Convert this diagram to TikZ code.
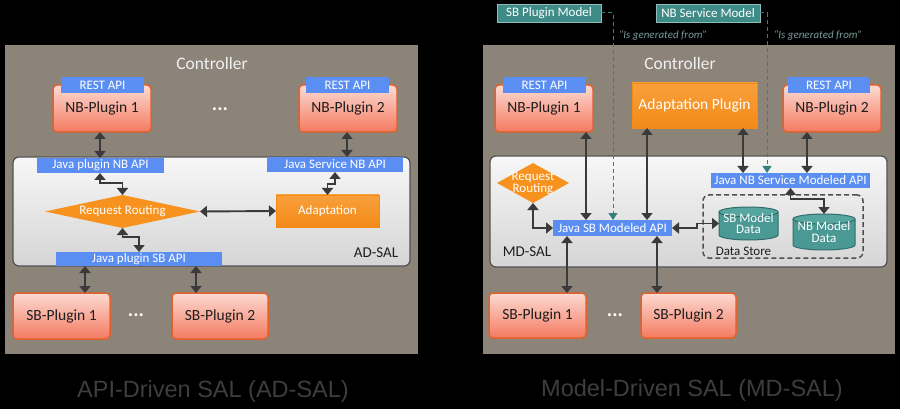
\documentclass[tikz,border=0pt]{standalone}
\usepackage{fontspec}
\setmainfont{Carlito}
\newfontfamily\arialfont{Liberation Sans}
\usetikzlibrary{shapes.geometric,arrows.meta,calc}
\definecolor{panelgray}{HTML}{8C8379}
\definecolor{apiblue}{HTML}{5B8EF2}
\definecolor{pinktop}{HTML}{FCDAD2}
\definecolor{pinkbot}{HTML}{F47A60}
\definecolor{pinkborder}{HTML}{E0622F}
\definecolor{orangetop}{HTML}{F9A03C}
\definecolor{orangebot}{HTML}{F28A17}
\definecolor{orangefill}{HTML}{F7921E}
\definecolor{tealbox}{HTML}{3E8B87}
\definecolor{tealedge}{HTML}{8FBDB9}
\definecolor{cylfill}{HTML}{4A9995}
\definecolor{cyltop}{HTML}{56A5A0}
\definecolor{cyledge}{HTML}{2F6F6B}
\definecolor{arrowgray}{HTML}{3A3A3A}
\definecolor{titlegray}{HTML}{3E3E3E}
\definecolor{genteal}{HTML}{7A9C99}
\definecolor{dashteal}{HTML}{3A7F7B}
\definecolor{saltop}{HTML}{F7F7F7}
\definecolor{salbot}{HTML}{D5D5D5}
\definecolor{salborder}{HTML}{505050}
\definecolor{textdark}{HTML}{1E1E1E}
\tikzset{
 panel/.style={fill=panelgray, inner sep=0pt, outer sep=0pt},
 salbox/.style={draw=salborder, line width=1.2pt, rounded corners=6pt, top color=saltop, bottom color=salbot, inner sep=0pt, outer sep=0pt},
 plugin/.style={draw=pinkborder, line width=1.5pt, rounded corners=4pt, top color=pinktop, bottom color=pinkbot, inner sep=0pt, outer sep=0pt, text=textdark, font=\fontsize{15.5}{18}\selectfont},
 tab/.style={fill=apiblue, inner sep=0pt, outer sep=0pt, minimum height=16pt, text=white, font=\fontsize{13}{15}\selectfont},
 apilabel/.style={fill=apiblue, inner sep=0pt, outer sep=0pt, text=white, font=\fontsize{13}{15}\selectfont},
 orangebox/.style={top color=orangetop, bottom color=orangebot, draw=orangebot, line width=0.6pt, inner sep=0pt, outer sep=0pt, text=white},
 rrshape/.style={diamond, fill=orangefill, inner sep=0pt, outer sep=0pt},
 rrtext/.style={text=white, inner sep=0pt, align=center, font=\fontsize{13}{12}\selectfont},
 modelbox/.style={fill=tealbox, draw=tealedge, line width=0.6pt, inner sep=0pt, outer sep=0pt, text=white, minimum width=104pt, minimum height=18pt, font=\fontsize{13}{15}\selectfont},
 cylbox/.style={inner sep=0pt, outer sep=0pt, text=white, align=center, font=\fontsize{13}{12}\selectfont},
 cylbody/.style={fill=cylfill},
 cylline/.style={draw=cyledge, line width=1pt},
 storebox/.style={draw=salborder, line width=1.5pt, dash pattern=on 5pt off 3pt, rounded corners=6pt, inner sep=0pt, outer sep=0pt},
 dbl/.style={draw=arrowgray, line width=1.9pt, {Triangle[length=7pt,width=11pt]}-{Triangle[length=7pt,width=11pt]}},
 gen/.style={draw=dashteal, line width=1pt, dash pattern=on 4pt off 3pt, -{Triangle[length=7pt,width=9pt,fill=dashteal]}},
 gentext/.style={text=genteal, font=\fontsize{11}{13}\selectfont\itshape},
 dots/.style={text=white, font=\fontsize{20}{20}\selectfont\bfseries},
 ctrl/.style={text=white!94!black, font=\fontsize{17.5}{20}\selectfont},
 saltext/.style={text=textdark, font=\fontsize{15}{18}\selectfont},
 title/.style={text=titlegray, font=\arialfont\fontsize{23.5}{26}\selectfont},
}
\begin{document}
\begin{tikzpicture}[x=1pt,y=-1pt]
\useasboundingbox (0,0) rectangle (900,409);
\fill[black] (0,0) rectangle (900,409);

%% ================= LEFT: AD-SAL =================
\node[panel, minimum width=413pt, minimum height=309pt] (panelL) at (211.5,199.5) {};
\node[ctrl] (ctrlL) at (212,63) {Controller};

\node[plugin, minimum width=98pt, minimum height=47pt] (NB1L) at (102,108.5) {\raisebox{-3pt}{NB-Plugin 1}};
\node[tab, minimum width=83pt] (tabL1) at (102.5,85) {REST API};
\node[plugin, minimum width=98pt, minimum height=47pt] (NB2L) at (348,108.5) {\raisebox{-3pt}{NB-Plugin 2}};
\node[tab, minimum width=83pt] (tabL2) at (347.5,85) {REST API};
\node[dots] (dotsL1) at (220,109) {...};

\node[salbox, minimum width=397pt, minimum height=109pt] (ADSAL) at (211.5,211.5) {};
\node[apilabel, minimum width=127pt, minimum height=15pt] (JNBL) at (100.5,165.5) {Java plugin NB API};
\node[apilabel, minimum width=136pt, minimum height=15pt] (JSNBL) at (335,164.5) {Java Service NB API};
\node[rrshape, minimum width=155pt, minimum height=33pt] (RRL) at (122.5,211.5) {};
\node[rrtext] (RRLt) at (RRL.center) {Request Routing};
\node[orangebox, minimum width=103pt, minimum height=32pt, font=\fontsize{13}{15}\selectfont] (ADL) at (327.5,211) {Adaptation};
\node[apilabel, minimum width=166pt, minimum height=14pt] (JSBL) at (139,259) {Java plugin SB API};
\node[saltext] (adsalt) at (376,253) {AD-SAL};

\node[plugin, minimum width=97pt, minimum height=46pt] (SB1L) at (61.5,316) {SB-Plugin 1};
\node[plugin, minimum width=96pt, minimum height=46pt] (SB2L) at (220,316) {SB-Plugin 2};
\node[dots] (dotsL2) at (136,315) {...};

\draw[dbl] (100,0 |- NB1L.south) -- (100,0 |- JNBL.north);
\draw[dbl] (347,0 |- NB2L.south) -- (347,0 |- JSNBL.north);
\draw[dbl] (100,0 |- JNBL.south) -- ++(0,10) -| (RRL.north);
\draw[dbl] (RRL.south) -- ++(0,9) -| (JSBL.north);
\draw[dbl] (ADL.north) -- ++(0,-11) -| (JSNBL.south);
\draw[dbl] (RRL.east) -- (ADL.west);
\draw[dbl] (85,0 |- JSBL.south) -- (85,0 |- SB1L.north);
\draw[dbl] (196,0 |- JSBL.south) -- (196,0 |- SB2L.north);

\node[title] (titleL) at (213,391) {API-Driven SAL (AD-SAL)};

%% ================= RIGHT: MD-SAL =================
\node[panel, minimum width=412pt, minimum height=309pt] (panelR) at (689,199.5) {};
\node[ctrl] (ctrlR) at (680,63) {Controller};

\node[modelbox] (SBM) at (549,13) {SB Plugin Model};
\node[modelbox] (NBSM) at (708,13) {NB Service Model};
\node[gentext] (gen1) at (663,35) {``Is generated from''};
\node[gentext] (gen2) at (818,35) {``Is generated from''};

\node[plugin, minimum width=98pt, minimum height=47pt] (NB1R) at (544,108.5) {\raisebox{-3pt}{NB-Plugin 1}};
\node[tab, minimum width=83pt] (tabR1) at (544.5,85) {REST API};
\node[orangebox, minimum width=125pt, minimum height=45pt, font=\fontsize{15.5}{18}\selectfont] (ADP) at (694.5,105.5) {Adaptation Plugin};
\node[plugin, minimum width=98pt, minimum height=47pt] (NB2R) at (832,108.5) {\raisebox{-3pt}{NB-Plugin 2}};
\node[tab, minimum width=82pt] (tabR2) at (829,85) {REST API};

\node[salbox, minimum width=397pt, minimum height=111pt] (MDSAL) at (688.5,211.5) {};
\node[rrshape, minimum width=72pt, minimum height=40pt] (RRR) at (533,183) {};
\node[rrtext] (RRRt) at (RRR.center) {Request\\Routing};
\node[apilabel, minimum width=119pt, minimum height=16pt] (JSBM) at (612.5,228) {Java SB Modeled API};
\node[apilabel, minimum width=159pt, minimum height=15pt] (JNBSM) at (790.5,180.5) {Java NB Service Modeled API};
\node[storebox, minimum width=160pt, minimum height=63pt] (DS) at (783,226.5) {};
\node[saltext, font=\fontsize{13}{15}\selectfont] (DSt) at (743.5,251) {Data Store};
\node[saltext] (mdsalt) at (527,252) {MD-SAL};

% SB Model Data cylinder
\fill[cylbody] (719,212) -- (719,235) .. controls (719,237.76) and (732.21,240) .. (748.5,240) .. controls (764.79,240) and (778,237.76) .. (778,235) -- (778,212) -- cycle;
\draw[cylline] (719,212) -- (719,235) .. controls (719,237.76) and (732.21,240) .. (748.5,240) .. controls (764.79,240) and (778,237.76) .. (778,235) -- (778,212);
\filldraw[fill=cyltop, cylline] (748.5,212) ellipse [x radius=29.5, y radius=5];
\node[cylbox, minimum width=59pt, minimum height=33pt] (SBMD) at (748.5,223.5) {\raisebox{-3pt}{\shortstack{SB Model\\Data}}};
% NB Model Data cylinder
\fill[cylbody] (793,219) -- (793,245) .. controls (793,247.76) and (806.88,250) .. (824,250) .. controls (841.12,250) and (855,247.76) .. (855,245) -- (855,219) -- cycle;
\draw[cylline] (793,219) -- (793,245) .. controls (793,247.76) and (806.88,250) .. (824,250) .. controls (841.12,250) and (855,247.76) .. (855,245) -- (855,219);
\filldraw[fill=cyltop, cylline] (824,219) ellipse [x radius=31, y radius=5];
\node[cylbox, minimum width=62pt, minimum height=36pt] (NBMD) at (824,232) {\raisebox{-5pt}{\shortstack{NB Model\\Data}}};

\node[plugin, minimum width=97pt, minimum height=45pt] (SB1R) at (537.5,315.5) {SB-Plugin 1};
\node[plugin, minimum width=95pt, minimum height=45pt] (SB2R) at (688.5,315.5) {SB-Plugin 2};
\node[dots] (dotsR) at (615,315) {...};

\draw[gen] (SBM.east) -| (613,0 |- JSBM.north);
\draw[gen] (NBSM.east) -| (767,0 |- JNBSM.north);

\draw[dbl] (586,0 |- NB1R.south) -- (586,0 |- JSBM.north);
\draw[dbl] (647,0 |- ADP.south) -- (647,0 |- JSBM.north);
\draw[dbl] (743,0 |- ADP.south) -- (743,0 |- JNBSM.north);
\draw[dbl] (807,0 |- NB2R.south) -- (807,0 |- JNBSM.north);
\draw[dbl] (RRR.south) |- (JSBM.west);
\draw[dbl] (JSBM.east) -- ++(25,0) |- (SBMD.west);
\draw[dbl] (JNBSM.south) -- ++(0,11) -| (NBMD.north);
\draw[dbl] (567,0 |- JSBM.south) -- (567,0 |- SB1R.north);
\draw[dbl] (657,0 |- JSBM.south) -- (657,0 |- SB2R.north);

\node[title] (titleR) at (692,390) {Model-Driven SAL (MD-SAL)};
\end{tikzpicture}
\end{document}
